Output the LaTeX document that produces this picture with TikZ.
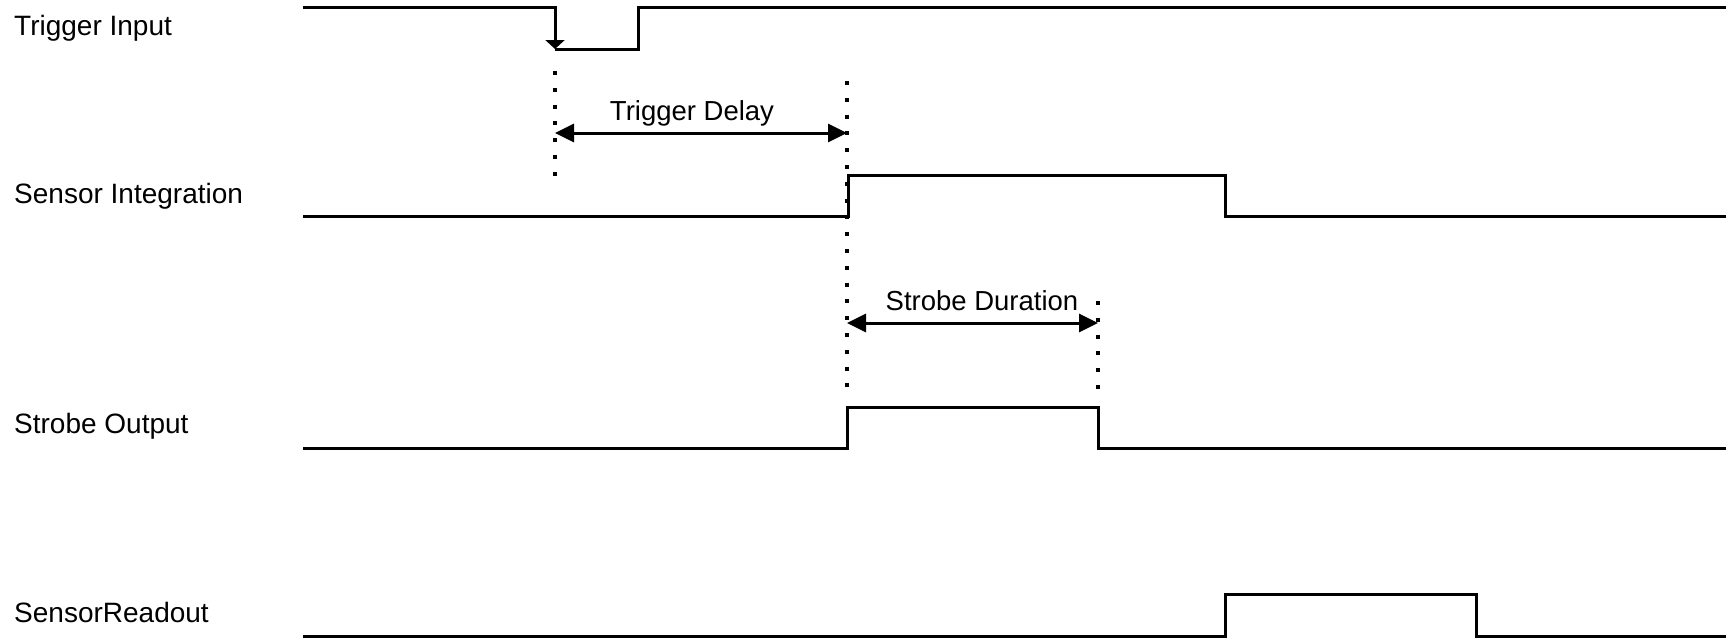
\documentclass[tikz,border=0pt]{standalone}
\usepackage{fontspec}
\setmainfont{Liberation Sans}
\usetikzlibrary{arrows.meta}
\begin{document}
\begin{tikzpicture}[x=1pt,y=-1pt,
  wave/.style={line width=3pt, line join=miter},
  guide/.style={line width=3.3pt, dash pattern=on 4pt off 12.8pt},
  sig/.style={anchor=base west, inner sep=0pt, font=\fontsize{28}{32}\selectfont},
  note/.style={anchor=base, inner sep=0pt, font=\fontsize{27.5}{31}\selectfont},
  dimarrow/.style={line width=3pt, {Triangle[length=19pt,width=18pt]}-{Triangle[length=19pt,width=18pt]}},
]
\useasboundingbox (0,0) rectangle (1726,638);

% signal labels
\node[sig] (lTrig) at (14,35) {Trigger Input};
\node[sig] (lInt) at (14,203) {Sensor Integration};
\node[sig] (lStr) at (14,433) {Strobe Output};
\node[sig] (lRd) at (14,622) {SensorReadout};

% key coordinates
\coordinate (tA) at (555,7);
\coordinate (tB) at (555,49);
\coordinate (tC) at (638,49);
\coordinate (tD) at (638,7);

% Trigger Input waveform
\draw[wave, -{Triangle[length=9pt,width=19pt]}] (303,7) -- (tA) -- (tB);
\draw[wave] (tB) -- (tC) -- (tD) -- (1726,7);

% Sensor Integration waveform
\draw[wave] (303,216) -- (848,216) -- (848,175) -- (1225,175) -- (1225,216) -- (1726,216);

% Strobe Output waveform
\draw[wave] (303,448) -- (847,448) -- (847,407) -- (1098,407) -- (1098,448) -- (1726,448);

% Sensor Readout waveform
\draw[wave] (303,636) -- (1225,636) -- (1225,594) -- (1476,594) -- (1476,636) -- (1726,636);

% dotted guides
\coordinate (g1t) at (555,71);
\coordinate (g1b) at (555,176);
\coordinate (g2t) at (847,81);
\coordinate (g2b) at (847,392);
\coordinate (g3t) at (1098,301);
\coordinate (g3b) at (1098,390);
\draw[guide] (g1t) -- (g1b);
\draw[guide] (g2t) -- (g2b);
\draw[guide] (g3t) -- (g3b);

% dimension arrows
\coordinate (d1a) at (555,133);
\coordinate (d1b) at (847,133);
\coordinate (d2a) at (847,323);
\coordinate (d2b) at (1098,323);
\draw[dimarrow] (d1a) -- (d1b);
\draw[dimarrow] (d2a) -- (d2b);

\node[note] (nDelay) at (692,120) {Trigger Delay};
\node[note] (nStrobe) at (982,310) {Strobe Duration};
\end{tikzpicture}
\end{document}
